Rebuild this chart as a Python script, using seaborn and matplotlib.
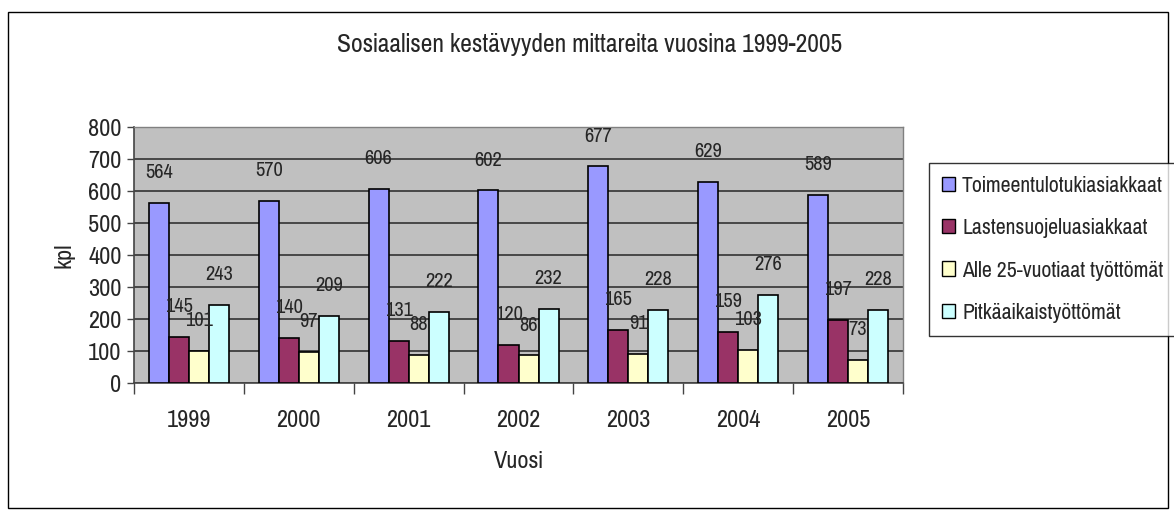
import matplotlib
matplotlib.use("Agg")
import matplotlib.pyplot as plt
import matplotlib.patches as mpatches
import numpy as np
import pandas as pd
import seaborn as sns

years = ["1999", "2000", "2001", "2002", "2003", "2004", "2005"]
series = ["Toimeentulotukiasiakkaat", "Lastensuojeluasiakkaat",
          "Alle 25-vuotiaat työttömät", "Pitkäaikaistyöttömät"]
toimeentulo = [564, 570, 606, 602, 677, 629, 589]
lastensuojelu = [145, 140, 131, 120, 165, 159, 197]
alle25 = [101, 97, 88, 86, 91, 103, 73]
pitkaaikais = [243, 209, 222, 232, 228, 276, 228]
colors = ["#9999FF", "#993366", "#FFFFCC", "#CCFFFF"]

# long form for seaborn
rows = []
for name, vals in zip(series, [toimeentulo, lastensuojelu, alle25, pitkaaikais]):
    for y, v in zip(years, vals):
        rows.append({"Vuosi": y, "sarja": name, "kpl": v})
df = pd.DataFrame(rows)

sns.set_style("white")
plt.rcParams['font.family'] = ['Pragati Narrow', 'DejaVu Sans']

fig = plt.figure(figsize=(11.74, 5.18), dpi=100)
ax = fig.add_axes([134 / 1174, 1 - 383 / 518, (903 - 134) / 1174, (383 - 127) / 518])

sns.barplot(data=df, x="Vuosi", y="kpl", hue="sarja", palette=colors,
            width=0.73, edgecolor="black", linewidth=1.2, saturation=1,
            ax=ax, legend=False, zorder=3)

for cont in ax.containers:
    ax.bar_label(cont, padding=15, fontsize=16)

ax.set_facecolor("#C0C0C0")
ax.set_ylim(0, 800)
ax.set_xlim(-0.5, 6.5)
ax.set_yticks(range(0, 801, 100))
ax.yaxis.grid(True, color="#333333", linewidth=1.2, zorder=0)
ax.set_axisbelow(True)
ax.tick_params(axis="y", which="major", left=True, length=5, width=1,
               color="#444444", labelsize=19, pad=4)
ax.tick_params(axis="x", which="major", bottom=False, labelsize=19, pad=16)
ax.set_xticks(np.arange(-0.5, 7, 1), minor=True)
ax.tick_params(axis="x", which="minor", bottom=True, length=8, width=1, color="#444444")
for s in ["left", "bottom"]:
    ax.spines[s].set_color("#444444")
    ax.spines[s].set_linewidth(1.2)
for s in ["top", "right"]:
    ax.spines[s].set_color("#808080")
    ax.spines[s].set_linewidth(1)

ax.set_xlabel("Vuosi", fontsize=19, labelpad=14)
ax.set_ylabel("kpl", fontsize=19, labelpad=10)
fig.text(590 / 1174, 1 - 45 / 518, "Sosiaalisen kestävyyden mittareita vuosina 1999-2005",
         ha="center", va="center", fontsize=20)

handles = [mpatches.Patch(facecolor=c, edgecolor="black", linewidth=1) for c in colors]
leg = fig.legend(handles, series, loc="upper left", bbox_to_anchor=(929 / 1174, 1 - 163 / 518),
                 fontsize=17, frameon=True, fancybox=False, handlelength=0.55,
                 handleheight=0.55, handletextpad=0.3, labelspacing=0.95,
                 borderpad=0.55, borderaxespad=0)
leg.get_frame().set_edgecolor("black")
leg.get_frame().set_linewidth(1)

# outer chart frame
fig.patches.append(mpatches.Rectangle((8 / 1174, 1 - 508 / 518), 1160 / 1174, 496 / 518,
                                      transform=fig.transFigure, fill=False,
                                      edgecolor="black", linewidth=1))

fig.savefig("out.png", dpi=100)
